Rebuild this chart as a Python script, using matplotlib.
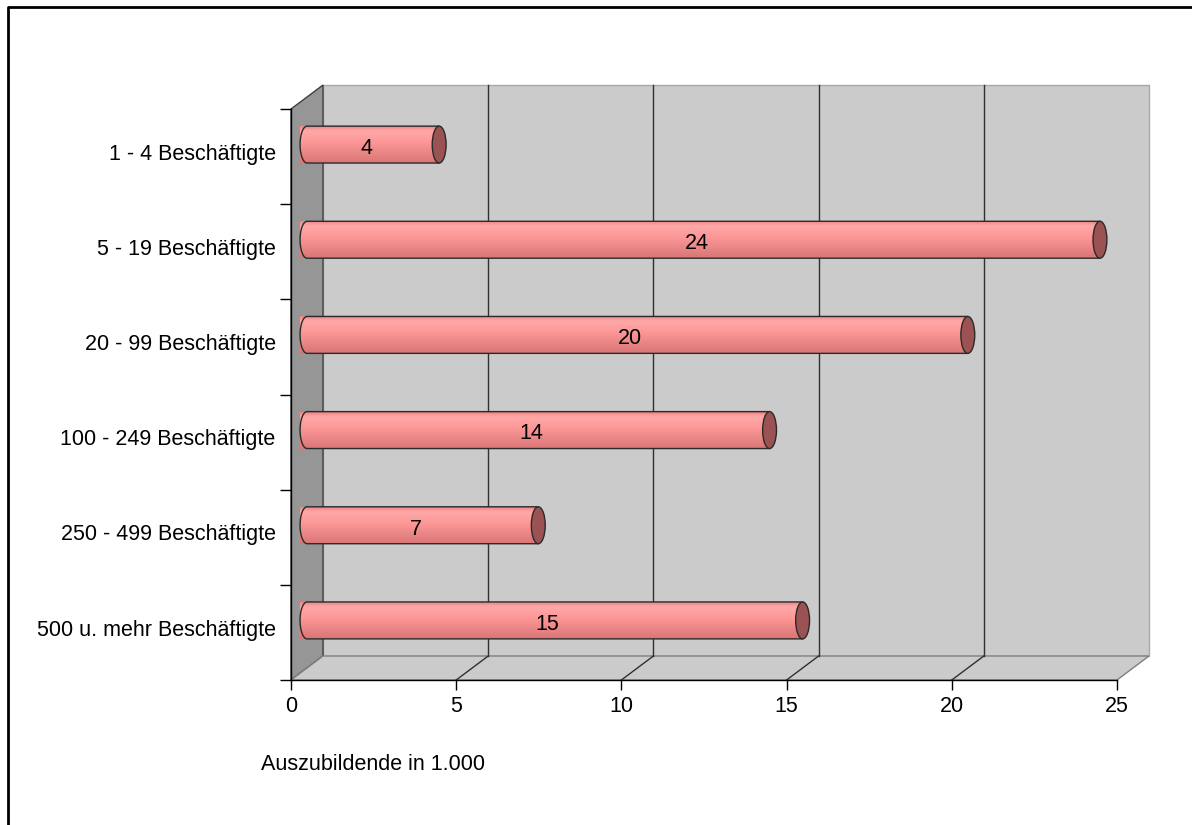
import numpy as np
import matplotlib
matplotlib.use('Agg')
import matplotlib.pyplot as plt
from matplotlib.patches import Polygon, Ellipse, PathPatch
from matplotlib.path import Path
from matplotlib.colors import LinearSegmentedColormap
from matplotlib.lines import Line2D

plt.rcParams['font.family'] = ['Liberation Sans', 'DejaVu Sans']
FS = 15.5

categories = ['1 - 4 Beschäftigte', '5 - 19 Beschäftigte', '20 - 99 Beschäftigte',
              '100 - 249 Beschäftigte', '250 - 499 Beschäftigte', '500 u. mehr Beschäftigte']
values = [4, 24, 20, 14, 7, 15]
xticks = [0, 5, 10, 15, 20, 25]
xlabel = 'Auszubildende in 1.000'

W, H = 1192, 825
fig = plt.figure(figsize=(W / 100, H / 100), dpi=100)
fig.patch.set_facecolor('white')

# front plane of the 3d box in pixels
left, right, top, bottom = 291, 1117, 109, 680
ax = fig.add_axes([left / W, 1 - bottom / H, (right - left) / W, (bottom - top) / H])
ax.set_facecolor('none')

# depth offset of the box (data units)
dx = 32 / ((right - left) / 25)
dy = -24 / ((bottom - top) / len(categories))
y0, y1 = -0.5, len(categories) - 0.5

wall = '#cbcbcb'
side = '#969696'
back = Polygon([(dx, y0 + dy), (25 + dx, y0 + dy), (25 + dx, y1 + dy), (dx, y1 + dy)],
               closed=True, facecolor=wall, edgecolor='#a8a8a8', lw=1, zorder=0.5, clip_on=False)
ax.add_patch(back)
lwall = Polygon([(0, y0), (dx, y0 + dy), (dx, y1 + dy), (0, y1)],
                closed=True, facecolor=side, edgecolor='#404040', lw=1, zorder=0.6, clip_on=False)
ax.add_patch(lwall)
floor = Polygon([(0, y1), (dx, y1 + dy), (25 + dx, y1 + dy), (25, y1)],
                closed=True, facecolor=wall, edgecolor='#808080', lw=1, zorder=0.6, clip_on=False)
ax.add_patch(floor)

# gridlines on the back wall and floor
for v in xticks[1:-1]:
    ax.plot([v + dx, v + dx], [y0 + dy, y1 + dy], color='#303030', lw=1, zorder=0.7, clip_on=False)
    ax.plot([v, v + dx], [y1, y1 + dy], color='#303030', lw=1, zorder=0.7, clip_on=False)

# cylinder bars
cmap = LinearSegmentedColormap.from_list('bar', [
    (0.0, (0.93, 0.52, 0.52)),
    (0.12, (1.0, 0.66, 0.66)),
    (0.45, (0.99, 0.59, 0.59)),
    (1.0, (0.85, 0.46, 0.46))])
grad = np.linspace(0, 1, 64).reshape(-1, 1)
h = 0.194
a = 0.21
t = np.linspace(np.pi / 2, 3 * np.pi / 2, 30)
for i, v in enumerate(values):
    c = i + dy / 2
    xs = dx / 2
    xe = v + dx / 2
    # rectangle body with a rounded left end
    verts = [(xs, c - h), (xe, c - h), (xe, c + h)]
    verts += list(zip(xs + a * np.cos(t), c + h * np.sin(t)))
    path = Path(verts + [verts[0]], closed=True)
    body = PathPatch(path, facecolor='none', edgecolor='#2a2a2a', lw=1, zorder=3, clip_on=False)
    ax.add_patch(body)
    im = ax.imshow(grad, cmap=cmap, aspect='auto', extent=(xs - a, xe, c + h, c - h),
                   zorder=2.5, clip_on=False, interpolation='bilinear')
    im.set_clip_path(body)
    cap = Ellipse((xe, c), 2 * a, 2 * h, facecolor='#9b5252', edgecolor='#2a2a2a', lw=1,
                  zorder=3.5, clip_on=False)
    ax.add_patch(cap)
    ax.text(v / 2 + 0.27, c + 0.04, str(v), ha='center', va='center', fontsize=FS, zorder=4)

ax.set_xlim(0, 25)
ax.set_ylim(len(categories) - 0.5, -0.5)

# axes, ticks and labels
for s in ['top', 'right']:
    ax.spines[s].set_visible(False)
for s in ['left', 'bottom']:
    ax.spines[s].set_color('black')
    ax.spines[s].set_linewidth(1)
    ax.spines[s].set_zorder(5)
ax.set_xticks(xticks)
ax.set_xticklabels([str(x) for x in xticks], fontsize=FS)
ax.tick_params(axis='x', direction='out', length=7.5, width=1, pad=4)
ax.set_yticks(np.arange(-0.5, len(categories), 1.0))
ax.set_yticklabels([])
ax.set_yticks(np.arange(len(categories)) - 0.05, minor=True)
ax.set_yticklabels(categories, minor=True, fontsize=FS)
ax.tick_params(axis='y', which='major', direction='out', length=8, width=1)
ax.tick_params(axis='y', which='minor', length=0, pad=11)

fig.text(261 / W, 1 - 765 / H, xlabel, ha='left', va='center', fontsize=FS)

# outer frame (top and left edges)
fig.add_artist(Line2D([8 / W, 8 / W, 1], [0, 1 - 7 / H, 1 - 7 / H],
                      transform=fig.transFigure, color='black', lw=2))

fig.savefig('out.png', dpi=100)
